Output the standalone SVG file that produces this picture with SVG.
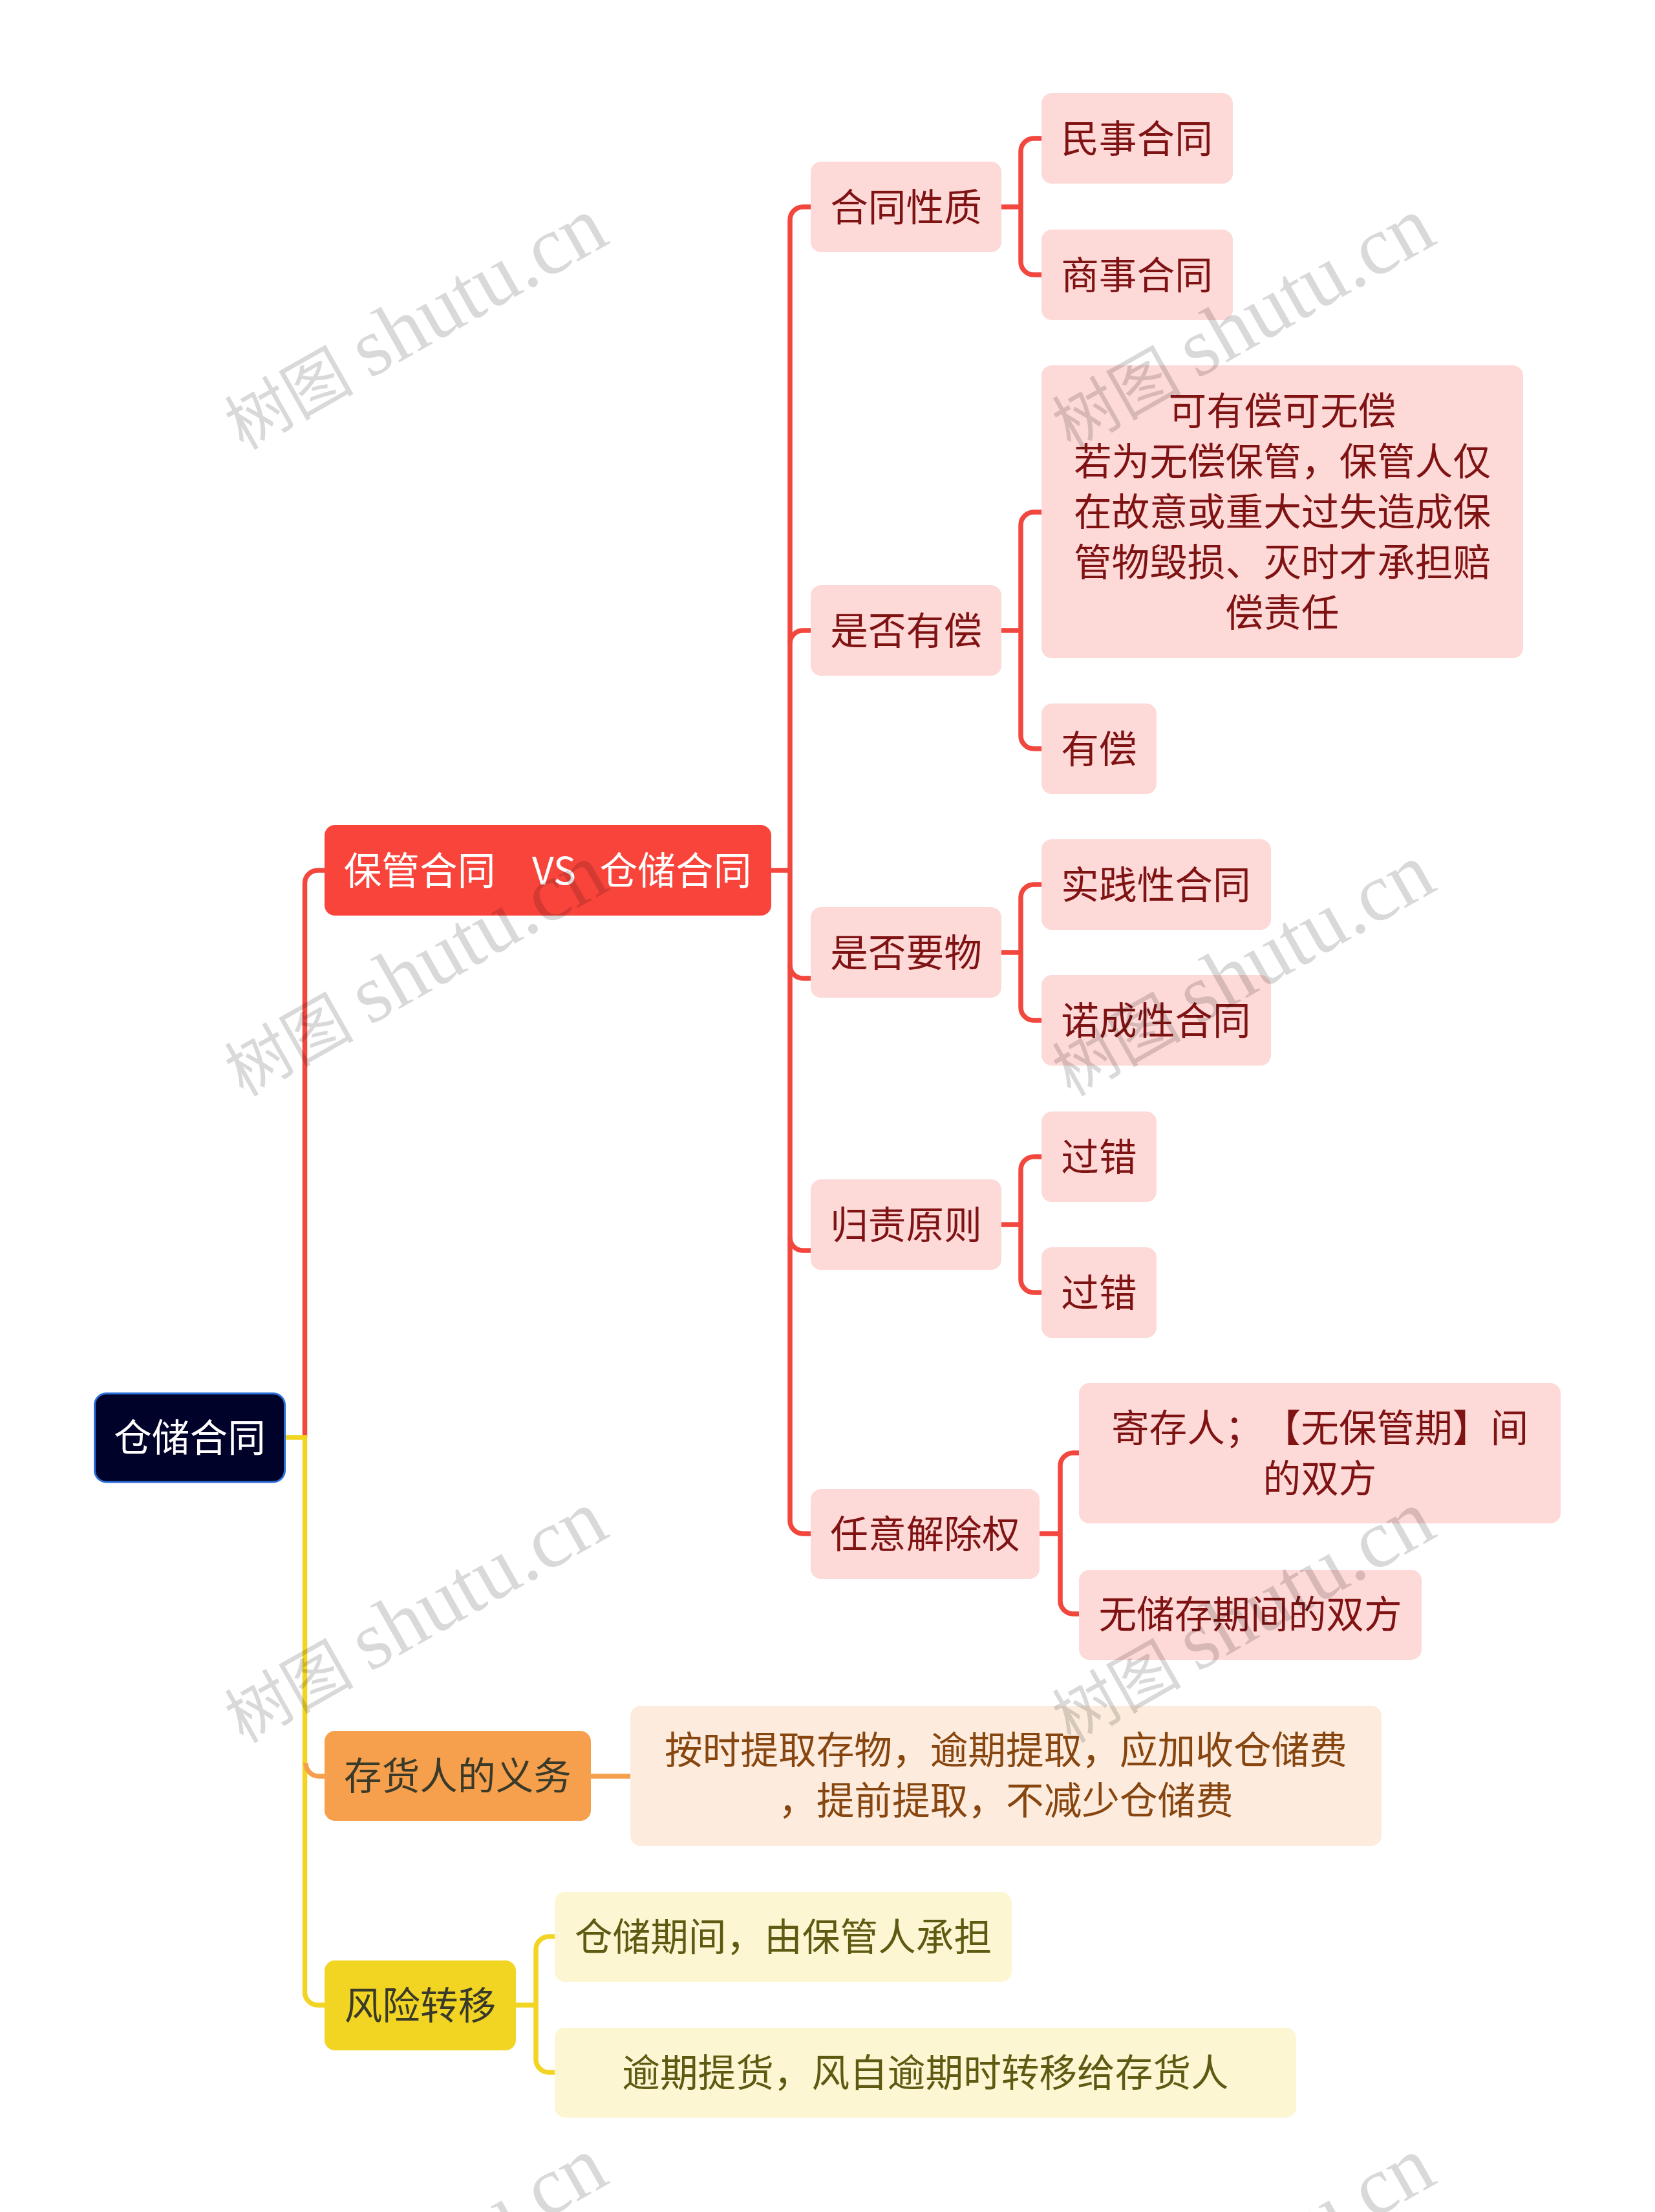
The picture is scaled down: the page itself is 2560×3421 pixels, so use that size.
<svg xmlns="http://www.w3.org/2000/svg" width="2560" height="3421" viewBox="0 0 2560 3421">
<style>
text{font-family:"Noto Sans CJK SC","Liberation Sans",sans-serif;font-size:58.67px;text-anchor:middle;text-spacing-trim:space-all}
.l{transform:translateY(.8px)}
.c{fill:none;stroke-width:7.500;stroke-linecap:butt}
.r{stroke:#f2473e}.y{stroke:#f2d423}.o{stroke:#f6a04d}
.n1{fill:#fdd9d8}.t1{fill:#7f1313}
.n2{fill:#fdecdd}.t2{fill:#87450f}
.n3{fill:#fdf6d3}.t3{fill:#5f5a12}
.wm{font-family:"Liberation Serif","Noto Sans CJK SC",serif;font-size:128px;fill:#000;fill-opacity:.15;text-anchor:start}
.wc{font-size:100px}
</style>
<rect width="2560" height="3421" fill="#fff"/>
<g id="connectors">
<path class="c r" d="M471.500 2223V1366a20 20 0 0 1 20-20H502"/>
<path class="c y" d="M441 2223H471.500V3081a20 20 0 0 0 20 20H502"/>
<path class="c o" d="M473 2727a20 20 0 0 0 20 20H502"/>
<path class="c r" d="M1193 1346H1222"/>
<path class="c r" d="M1222 2352V340a20 20 0 0 1 20-20H1254"/>
<path class="c r" d="M1222 995a20 20 0 0 1 20-20H1254"/>
<path class="c r" d="M1222 1493a20 20 0 0 0 20 20H1254"/>
<path class="c r" d="M1222 1914a20 20 0 0 0 20 20H1254"/>
<path class="c r" d="M1222 2352a20 20 0 0 0 20 20H1254"/>
<path class="c r" d="M1549 320H1579M1611 214H1599a20 20 0 0 0-20 20V405a20 20 0 0 0 20 20H1611"/>
<path class="c r" d="M1549 975H1579M1611 792H1599a20 20 0 0 0-20 20V1138a20 20 0 0 0 20 20H1611"/>
<path class="c r" d="M1549 1473H1579M1611 1368H1599a20 20 0 0 0-20 20V1558a20 20 0 0 0 20 20H1611"/>
<path class="c r" d="M1549 1894H1579M1611 1789H1599a20 20 0 0 0-20 20V1979a20 20 0 0 0 20 20H1611"/>
<path class="c r" d="M1608 2372H1640M1669 2247H1660a20 20 0 0 0-20 20V2476a20 20 0 0 0 20 20H1669"/>
<path class="c o" d="M914 2747H975"/>
<path class="c y" d="M798 3101H829M858 2995H849a20 20 0 0 0-20 20V3185a20 20 0 0 0 20 20H858"/>
</g>
<g id="root"><rect x="146.500" y="2155" width="294" height="137" rx="18" fill="#000229" stroke="#2b6fd8" stroke-width="3"/><text class="l" x="293.500" y="2244" fill="#fff">仓储合同</text></g>
<g id="main"><rect x="502" y="1276" width="691" height="140" rx="16" fill="#f9443b"/><text class="l" y="1367" fill="#fff"><tspan x="649">保管合同</tspan><tspan x="857">VS</tspan><tspan x="1045">仓储合同</tspan></text></g>
<g id="n-nature"><rect class="n1" x="1254" y="250" width="295" height="140" rx="16"/><text class="t1 l" x="1401.500" y="341">合同性质</text></g>
<g id="n-civil"><rect class="n1" x="1611" y="144" width="296" height="140" rx="16"/><text class="t1 l" x="1758.500" y="235">民事合同</text></g>
<g id="n-comm"><rect class="n1" x="1611" y="355" width="296" height="140" rx="16"/><text class="t1 l" x="1758.500" y="446">商事合同</text></g>
<g id="n-paid"><rect class="n1" x="1254" y="905" width="295" height="140" rx="16"/><text class="t1 l" x="1401.500" y="996">是否有偿</text></g>
<g id="n-long"><rect class="n1" x="1611" y="565" width="745" height="453" rx="16"/><text class="t1 l"><tspan x="1983.500" y="656">可有偿可无偿</tspan><tspan x="1983.500" y="734">若为无偿保管，保管人仅</tspan><tspan x="1983.500" y="812">在故意或重大过失造成保</tspan><tspan x="1983.500" y="890">管物毁损、灭时才承担赔</tspan><tspan x="1983.500" y="968">偿责任</tspan></text></g>
<g id="n-youchang"><rect class="n1" x="1611" y="1088" width="178" height="140" rx="16"/><text class="t1 l" x="1700" y="1179">有偿</text></g>
<g id="n-req"><rect class="n1" x="1254" y="1403" width="295" height="140" rx="16"/><text class="t1 l" x="1401.500" y="1494">是否要物</text></g>
<g id="n-prac"><rect class="n1" x="1611" y="1298" width="355" height="140" rx="16"/><text class="t1 l" x="1788" y="1389">实践性合同</text></g>
<g id="n-cons"><rect class="n1" x="1611" y="1508" width="355" height="140" rx="16"/><text class="t1 l" x="1788" y="1599">诺成性合同</text></g>
<g id="n-fault"><rect class="n1" x="1254" y="1824" width="295" height="140" rx="16"/><text class="t1 l" x="1401.500" y="1915">归责原则</text></g>
<g id="n-f1"><rect class="n1" x="1611" y="1719" width="178" height="140" rx="16"/><text class="t1 l" x="1700" y="1810">过错</text></g>
<g id="n-f2"><rect class="n1" x="1611" y="1929" width="178" height="140" rx="16"/><text class="t1 l" x="1700" y="2020">过错</text></g>
<g id="n-term"><rect class="n1" x="1254" y="2303" width="354" height="139" rx="16"/><text class="t1 l" x="1431" y="2393">任意解除权</text></g>
<g id="n-t1"><rect class="n1" x="1669" y="2139" width="745" height="217" rx="16"/><text class="t1 l"><tspan x="2041.500" y="2229">寄存人；【无保管期】间</tspan><tspan x="2041.500" y="2307">的双方</tspan></text></g>
<g id="n-t2"><rect class="n1" x="1669" y="2428" width="530" height="139" rx="16"/><text class="t1 l" x="1934" y="2517">无储存期间的双方</text></g>
<g id="n-dep"><rect x="502" y="2677" width="412" height="139" rx="16" fill="#f6a04d"/><text class="l" x="708" y="2767" fill="#3a3a2a">存货人的义务</text></g>
<g id="n-dep1"><rect class="n2" x="975" y="2638" width="1162" height="217" rx="16"/><text class="t2 l"><tspan x="1556" y="2727">按时提取存物，逾期提取，应加收仓储费</tspan><tspan x="1556" y="2805">，提前提取，不减少仓储费</tspan></text></g>
<g id="n-risk"><rect x="502" y="3032" width="296" height="139" rx="16" fill="#f2d423"/><text class="l" x="650" y="3122" fill="#3a3a2a">风险转移</text></g>
<g id="n-r1"><rect class="n3" x="858" y="2926" width="707" height="139" rx="16"/><text class="t3 l" x="1211.500" y="3016">仓储期间，由保管人承担</text></g>
<g id="n-r2"><rect class="n3" x="858" y="3136" width="1147" height="139" rx="16"/><text class="t3 l" x="1431.500" y="3226">逾期提货，风自逾期时转移给存货人</text></g>
<g id="watermarks">
<text class="wm" transform="translate(376,697) rotate(-29.500)"><tspan class="wc">树图 </tspan>shutu.cn</text>
<text class="wm" transform="translate(1656,697) rotate(-29.500)"><tspan class="wc">树图 </tspan>shutu.cn</text>
<text class="wm" transform="translate(376,1697) rotate(-29.500)"><tspan class="wc">树图 </tspan>shutu.cn</text>
<text class="wm" transform="translate(1656,1697) rotate(-29.500)"><tspan class="wc">树图 </tspan>shutu.cn</text>
<text class="wm" transform="translate(376,2697) rotate(-29.500)"><tspan class="wc">树图 </tspan>shutu.cn</text>
<text class="wm" transform="translate(1656,2697) rotate(-29.500)"><tspan class="wc">树图 </tspan>shutu.cn</text>
<text class="wm" transform="translate(376,3697) rotate(-29.500)"><tspan class="wc">树图 </tspan>shutu.cn</text>
<text class="wm" transform="translate(1656,3697) rotate(-29.500)"><tspan class="wc">树图 </tspan>shutu.cn</text>
</g>
</svg>
